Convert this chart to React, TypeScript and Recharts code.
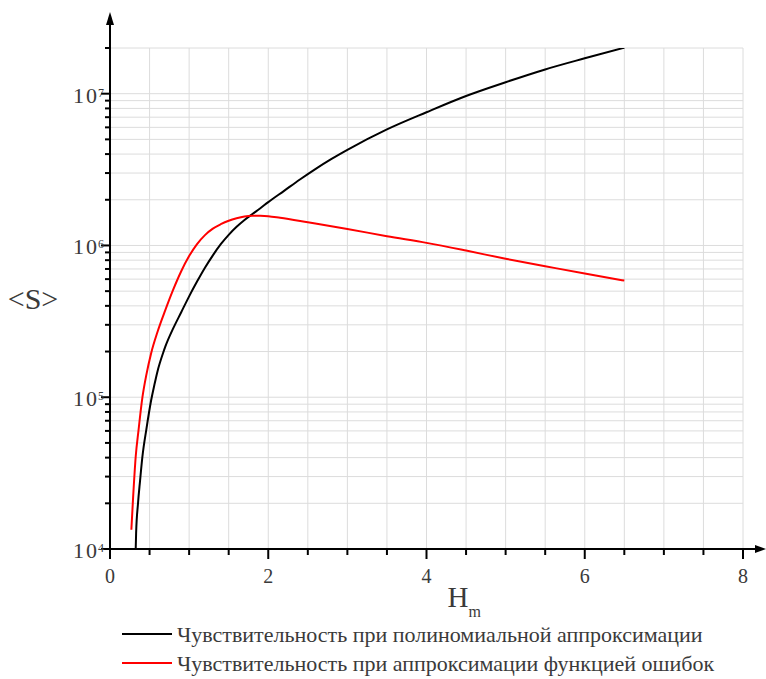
import { CartesianGrid, Line, LineChart, XAxis, YAxis } from 'recharts';

// Hm values and <S> values
const polyH = [0.325, 0.33, 0.354, 0.38, 0.41, 0.46, 0.52, 0.56, 0.6, 0.67, 0.7, 0.8, 0.9, 1.0, 1.1, 1.2, 1.3, 1.4, 1.5, 1.6, 1.7, 1.8, 1.9, 2.0, 2.2, 2.4, 2.6, 2.8, 3.0, 3.5, 4.0, 4.5, 5.0, 5.5, 6.0, 6.5];
const polyS = [1.0e4, 1.27e4, 2.0e4, 2.82e4, 4.07e4, 6.17e4, 9.55e4, 1.2e5, 1.48e5, 1.95e5, 2.16e5, 2.85e5, 3.63e5, 4.62e5, 5.78e5, 7.13e5, 8.61e5, 1.019e6, 1.175e6, 1.327e6, 1.472e6, 1.61e6, 1.76e6, 1.93e6, 2.29e6, 2.72e6, 3.2e6, 3.72e6, 4.27e6, 5.82e6, 7.55e6, 9.66e6, 1.19e7, 1.445e7, 1.71e7, 2.01e7];

const erfH = [0.27, 0.29, 0.325, 0.36, 0.41, 0.46, 0.52, 0.6, 0.7, 0.8, 0.9, 1.0, 1.1, 1.2, 1.3, 1.4, 1.5, 1.6, 1.7, 1.8, 1.9, 2.0, 2.15, 2.5, 3.0, 3.5, 4.0, 4.5, 5.0, 5.5, 6.0, 6.5];
const erfS = [1.34e4, 2.09e4, 4.07e4, 6.03e4, 1.0e5, 1.41e5, 1.95e5, 2.69e5, 3.76e5, 5.13e5, 6.76e5, 8.51e5, 1.02e6, 1.17e6, 1.29e6, 1.38e6, 1.455e6, 1.51e6, 1.55e6, 1.567e6, 1.57e6, 1.56e6, 1.52e6, 1.42e6, 1.285e6, 1.15e6, 1.04e6, 9.25e5, 8.17e5, 7.3e5, 6.53e5, 5.87e5];

const seriesNames = [
  'Чувствительность при полиномиальной аппроксимации',
  'Чувствительность при аппроксимации функцией ошибок',
];
const seriesColors = ['#000000', '#ff0000'];

const xTicks = [0, 0.5, 1, 1.5, 2, 2.5, 3, 3.5, 4, 4.5, 5, 5.5, 6, 6.5, 7, 7.5, 8];
const yTicks = [
  1e4, 2e4, 3e4, 4e4, 5e4, 6e4, 7e4, 8e4, 9e4,
  1e5, 2e5, 3e5, 4e5, 5e5, 6e5, 7e5, 8e5, 9e5,
  1e6, 2e6, 3e6, 4e6, 5e6, 6e6, 7e6, 8e6, 9e6,
  1e7, 2e7,
];

const polyData = polyH.map((h, i) => ({ h, s: polyS[i] }));
const erfData = erfH.map((h, i) => ({ h, s: erfS[i] }));

const FONT = '"Liberation Serif", "DejaVu Serif", serif';
const TEXT = '#3a3a3a';

function XTick(props: any) {
  const { x, y, payload } = props;
  const v = payload.value as number;
  const major = v % 2 === 0;
  return (
    <g>
      <line x1={x} x2={x} y1={y} y2={y + (major ? 10 : 6)} stroke="#000" strokeWidth={2} />
      {major && (
        <text x={x} y={y + 34} textAnchor="middle" style={{ fontFamily: FONT }} fontSize={20} fill={TEXT}>
          {v}
        </text>
      )}
    </g>
  );
}

function YTick(props: any) {
  const { x, y, payload } = props;
  const v = payload.value as number;
  const exp = Math.log10(v);
  const major = Math.abs(exp - Math.round(exp)) < 1e-9;
  return (
    <g>
      <line x1={x} x2={x - (major ? 9 : 5)} y1={y} y2={y} stroke="#000" strokeWidth={2} />
      {major && (
        <text x={x - 11} y={y + 9} textAnchor="end" style={{ fontFamily: FONT }} fontSize={22} fill={TEXT} letterSpacing={2}>
          10
        </text>
      )}
      {major && (
        <text x={x - 12} y={y + 3} textAnchor="start" style={{ fontFamily: FONT }} fontSize={12} fill={TEXT}>
          {Math.round(exp)}
        </text>
      )}
    </g>
  );
}

function XAxisDeco(props: any) {
  const { x, y, width } = props.viewBox;
  const end = x + width;
  return (
    <g>
      <line x1={end} x2={end + 16} y1={y} y2={y} stroke="#000" strokeWidth={2} />
      <polygon points={`${end + 23},${y} ${end + 12},${y - 4} ${end + 12},${y + 4}`} fill="#000" />
      <text x={x + width / 2 + 21} y={y + 58} style={{ fontFamily: FONT }} fontSize={29} fill={TEXT}>
        H
        <tspan dy={10} fontSize={16}>
          m
        </tspan>
      </text>
    </g>
  );
}

function YAxisDeco(props: any) {
  const { x, y, width, height } = props.viewBox;
  const ax = x + width;
  return (
    <g>
      <line x1={ax} x2={ax} y1={y} y2={y - 26} stroke="#000" strokeWidth={2} />
      <polygon points={`${ax},${y - 36} ${ax - 4},${y - 23} ${ax + 4},${y - 23}`} fill="#000" />
      <text x={33} y={y + height / 2 + 10} textAnchor="middle" style={{ fontFamily: FONT }} fontSize={30} fill={TEXT}>
        {'<S>'}
      </text>
    </g>
  );
}

function LegendBox() {
  return (
    <svg width={640} height={60} style={{ position: 'absolute', left: 120, top: 620 }}>
      {seriesNames.map((name, i) => (
        <g key={name} transform={`translate(0, ${14 + i * 29})`}>
          <line x1={2} x2={52} y1={0} y2={0} stroke={seriesColors[i]} strokeWidth={2} />
          <text x={57} y={8} style={{ fontFamily: FONT }} fontSize={22} fill={TEXT}>
            {name}
          </text>
        </g>
      ))}
    </svg>
  );
}

export default function App() {
  return (
    <div style={{ position: 'absolute', left: 0, top: 0, width: 766, height: 679, background: '#fff' }}>
      <LineChart width={766} height={679} margin={{ top: 48, right: 23, bottom: 100, left: 50 }}>
        <CartesianGrid stroke="#dcdcdc" strokeWidth={1} />
        <XAxis
          dataKey="h"
          type="number"
          domain={[0, 8]}
          ticks={xTicks}
          interval={0}
          height={30}
          tickSize={0}
          tickMargin={0}
          tick={<XTick />}
          axisLine={{ stroke: '#000', strokeWidth: 2 }}
          label={<XAxisDeco />}
          allowDuplicatedCategory={false}
        />
        <YAxis
          dataKey="s"
          type="number"
          scale="log"
          domain={[1e4, 2e7]}
          allowDataOverflow
          ticks={yTicks}
          interval={0}
          width={60}
          tickSize={0}
          tickMargin={0}
          tick={<YTick />}
          axisLine={{ stroke: '#000', strokeWidth: 2 }}
          label={<YAxisDeco />}
        />
        <Line
          data={polyData}
          dataKey="s"
          name={seriesNames[0]}
          type="monotone"
          stroke={seriesColors[0]}
          strokeWidth={2}
          dot={false}
          isAnimationActive={false}
        />
        <Line
          data={erfData}
          dataKey="s"
          name={seriesNames[1]}
          type="monotone"
          stroke={seriesColors[1]}
          strokeWidth={2}
          dot={false}
          isAnimationActive={false}
        />
      </LineChart>
      <LegendBox />
    </div>
  );
}
